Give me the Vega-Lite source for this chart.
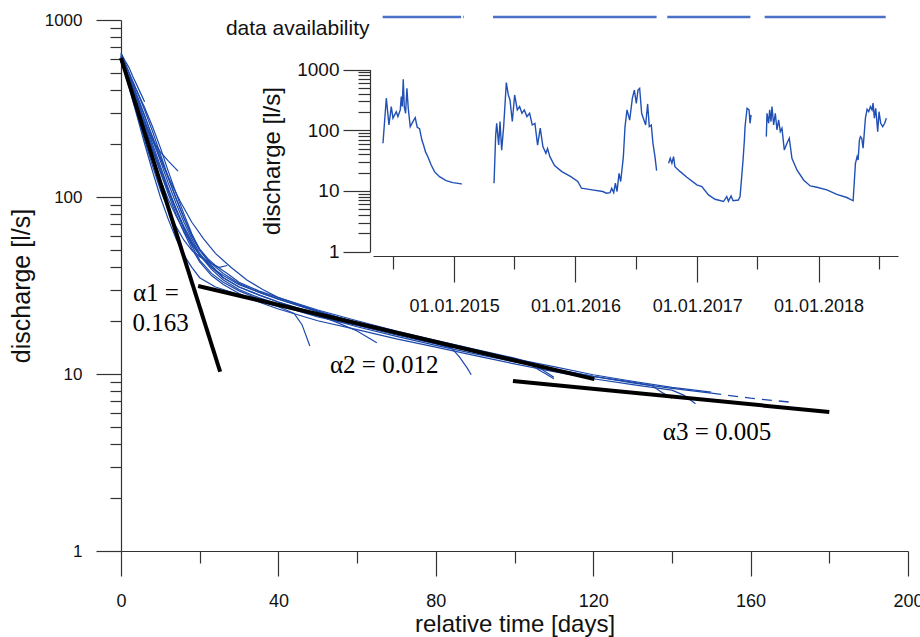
{
  "$schema": "https://vega.github.io/schema/vega-lite/v6.json",
  "width": 787,
  "height": 531,
  "autosize": {"type": "none"},
  "padding": {"left": 121, "top": 20, "right": 12, "bottom": 86},
  "background": "white",
  "config": {
    "view": {"stroke": null},
    "axis": {
      "grid": false,
      "labelFont": "Liberation Sans",
      "titleFont": "Liberation Sans",
      "titleFontWeight": "normal",
      "labelColor": "#111",
      "titleColor": "#111",
      "domainColor": "#333",
      "tickColor": "#333",
      "domainWidth": 1.2,
      "tickWidth": 1.2,
      "labelOverlap": false,
      "labelFlush": false,
      "labelBound": false
    }
  },
  "datasets": {
    "curves": [
      {"c":1,"t":0,"q":650},{"c":1,"t":1,"q":590},{"c":1,"t":2,"q":540},{"c":1,"t":3,"q":480},{"c":1,"t":4,"q":430},{"c":1,"t":5,"q":385},{"c":1,"t":6,"q":345},
      {"c":2,"t":0,"q":600},{"c":2,"t":2,"q":470},{"c":2,"t":4,"q":340},{"c":2,"t":6,"q":260},{"c":2,"t":8,"q":210},{"c":2,"t":10,"q":180},{"c":2,"t":12,"q":160},{"c":2,"t":14.5,"q":140},
      {"c":3,"t":0,"q":630},{"c":3,"t":2,"q":430},{"c":3,"t":4,"q":300},{"c":3,"t":6,"q":210},{"c":3,"t":8,"q":150},{"c":3,"t":10,"q":110},{"c":3,"t":12,"q":85},{"c":3,"t":14,"q":68},{"c":3,"t":16,"q":57},{"c":3,"t":18,"q":50},{"c":3,"t":20,"q":46},{"c":3,"t":23,"q":42},{"c":3,"t":25,"q":40},{"c":3,"t":27,"q":41},
      {"c":4,"t":0,"q":600},{"c":4,"t":2,"q":420},{"c":4,"t":4,"q":290},{"c":4,"t":6,"q":200},{"c":4,"t":8,"q":140},{"c":4,"t":10,"q":100},{"c":4,"t":12,"q":75},{"c":4,"t":14,"q":58},{"c":4,"t":16,"q":47},{"c":4,"t":18,"q":40},{"c":4,"t":20,"q":35},{"c":4,"t":24,"q":31},{"c":4,"t":28,"q":29},{"c":4,"t":32,"q":27},{"c":4,"t":36,"q":25.5},{"c":4,"t":40,"q":24},{"c":4,"t":44,"q":22},{"c":4,"t":46,"q":19},{"c":4,"t":48,"q":14.4},
      {"c":5,"t":0,"q":580},{"c":5,"t":2,"q":480},{"c":5,"t":4,"q":400},{"c":5,"t":6,"q":320},{"c":5,"t":8,"q":250},{"c":5,"t":10,"q":190},{"c":5,"t":12,"q":140},{"c":5,"t":14,"q":105},{"c":5,"t":16,"q":80},{"c":5,"t":18,"q":62},{"c":5,"t":20,"q":50},{"c":5,"t":23,"q":41},{"c":5,"t":26,"q":35},{"c":5,"t":30,"q":31},{"c":5,"t":35,"q":28},{"c":5,"t":40,"q":25.5},{"c":5,"t":45,"q":23.5},{"c":5,"t":50,"q":21.5},{"c":5,"t":55,"q":19.5},{"c":5,"t":60,"q":17.5},{"c":5,"t":65,"q":15},
      {"c":6,"t":0,"q":620},{"c":6,"t":2,"q":470},{"c":6,"t":4,"q":360},{"c":6,"t":6,"q":270},{"c":6,"t":8,"q":200},{"c":6,"t":10,"q":150},{"c":6,"t":12,"q":112},{"c":6,"t":14,"q":85},{"c":6,"t":16,"q":66},{"c":6,"t":18,"q":53},{"c":6,"t":20,"q":44},{"c":6,"t":23,"q":37},{"c":6,"t":26,"q":33},{"c":6,"t":30,"q":29.5},{"c":6,"t":35,"q":26.5},{"c":6,"t":40,"q":24.5},{"c":6,"t":50,"q":21},{"c":6,"t":60,"q":18.8},{"c":6,"t":70,"q":16.6},{"c":6,"t":80,"q":14.8},{"c":6,"t":84,"q":14},{"c":6,"t":86,"q":12.5},{"c":6,"t":88,"q":10.8},{"c":6,"t":89,"q":9.9},
      {"c":7,"t":0,"q":640},{"c":7,"t":2,"q":500},{"c":7,"t":4,"q":380},{"c":7,"t":6,"q":290},{"c":7,"t":8,"q":215},{"c":7,"t":10,"q":160},{"c":7,"t":12,"q":120},{"c":7,"t":14,"q":92},{"c":7,"t":16,"q":72},{"c":7,"t":18,"q":58},{"c":7,"t":20,"q":48},{"c":7,"t":23,"q":40},{"c":7,"t":26,"q":35},{"c":7,"t":30,"q":31},{"c":7,"t":35,"q":28},{"c":7,"t":40,"q":25.5},{"c":7,"t":50,"q":21.8},{"c":7,"t":60,"q":19.2},{"c":7,"t":70,"q":17},{"c":7,"t":80,"q":15.2},{"c":7,"t":90,"q":13.5},{"c":7,"t":100,"q":12},{"c":7,"t":104,"q":11.4},{"c":7,"t":106,"q":10.6},{"c":7,"t":108,"q":10},{"c":7,"t":110,"q":9.4},
      {"c":8,"t":0,"q":610},{"c":8,"t":2,"q":450},{"c":8,"t":4,"q":340},{"c":8,"t":6,"q":250},{"c":8,"t":8,"q":185},{"c":8,"t":10,"q":138},{"c":8,"t":12,"q":104},{"c":8,"t":14,"q":80},{"c":8,"t":16,"q":63},{"c":8,"t":18,"q":51},{"c":8,"t":20,"q":43},{"c":8,"t":23,"q":36},{"c":8,"t":26,"q":32},{"c":8,"t":30,"q":28.5},{"c":8,"t":35,"q":25.5},{"c":8,"t":40,"q":23.3},{"c":8,"t":50,"q":20},{"c":8,"t":60,"q":17.8},{"c":8,"t":70,"q":15.8},{"c":8,"t":80,"q":14.2},{"c":8,"t":90,"q":12.7},{"c":8,"t":100,"q":11.4},{"c":8,"t":110,"q":10.3},{"c":8,"t":120,"q":9.4},{"c":8,"t":130,"q":8.7},{"c":8,"t":140,"q":8.1},{"c":8,"t":143,"q":7.6},{"c":8,"t":146,"q":6.8},
      {"c":9,"t":0,"q":590},{"c":9,"t":2,"q":440},{"c":9,"t":4,"q":330},{"c":9,"t":6,"q":245},{"c":9,"t":8,"q":185},{"c":9,"t":10,"q":140},{"c":9,"t":12,"q":108},{"c":9,"t":14,"q":84},{"c":9,"t":16,"q":67},{"c":9,"t":18,"q":55},{"c":9,"t":20,"q":47},{"c":9,"t":23,"q":40},{"c":9,"t":26,"q":36},{"c":9,"t":30,"q":32},{"c":9,"t":35,"q":29},{"c":9,"t":40,"q":26.5},{"c":9,"t":50,"q":22.5},{"c":9,"t":60,"q":19.5},{"c":9,"t":70,"q":17.2},{"c":9,"t":80,"q":15.3},{"c":9,"t":90,"q":13.6},{"c":9,"t":100,"q":12.2},{"c":9,"t":110,"q":11},{"c":9,"t":120,"q":9.9},{"c":9,"t":130,"q":9.1},{"c":9,"t":140,"q":8.4},{"c":9,"t":150,"q":7.9},
      {"c":10,"t":0,"q":620},{"c":10,"t":2,"q":480},{"c":10,"t":4,"q":370},{"c":10,"t":6,"q":285},{"c":10,"t":8,"q":220},{"c":10,"t":10,"q":168},{"c":10,"t":12,"q":128},{"c":10,"t":14,"q":98},{"c":10,"t":16,"q":76},{"c":10,"t":18,"q":60},{"c":10,"t":20,"q":50},{"c":10,"t":23,"q":42},{"c":10,"t":26,"q":37},{"c":10,"t":30,"q":32.5},{"c":10,"t":35,"q":29},{"c":10,"t":40,"q":26.5},{"c":10,"t":50,"q":22.5},{"c":10,"t":60,"q":19.5},{"c":10,"t":70,"q":17},{"c":10,"t":80,"q":15},{"c":10,"t":90,"q":13.3},{"c":10,"t":100,"q":11.9},{"c":10,"t":110,"q":10.7},{"c":10,"t":120,"q":9.7},{"c":10,"t":130,"q":8.9},{"c":10,"t":140,"q":8.3},{"c":10,"t":150,"q":7.8},
      {"c":11,"t":0,"q":600},{"c":11,"t":2,"q":430},{"c":11,"t":4,"q":310},{"c":11,"t":6,"q":225},{"c":11,"t":8,"q":165},{"c":11,"t":10,"q":125},{"c":11,"t":12,"q":97},{"c":11,"t":14,"q":78},{"c":11,"t":16,"q":64},{"c":11,"t":18,"q":54},{"c":11,"t":20,"q":47},
      {"c":12,"t":0,"q":650},{"c":12,"t":2,"q":510},{"c":12,"t":4,"q":400},{"c":12,"t":6,"q":310},{"c":12,"t":8,"q":235},{"c":12,"t":10,"q":175},{"c":12,"t":12,"q":130},{"c":12,"t":14,"q":98},{"c":12,"t":16,"q":76},{"c":12,"t":18,"q":61},{"c":12,"t":20,"q":51},{"c":12,"t":22,"q":45},{"c":12,"t":24,"q":41},{"c":12,"t":27,"q":37},{"c":12,"t":30,"q":33},{"c":12,"t":35,"q":29.5},{"c":12,"t":40,"q":27},{"c":12,"t":48,"q":23.5},{"c":12,"t":55,"q":21},{"c":12,"t":62,"q":19},{"c":12,"t":68,"q":17.5},
      {"c":13,"t":0,"q":600},{"c":13,"t":3,"q":400},{"c":13,"t":6,"q":270},{"c":13,"t":9,"q":185},{"c":13,"t":12,"q":130},{"c":13,"t":15,"q":95},{"c":13,"t":18,"q":72},{"c":13,"t":21,"q":58},{"c":13,"t":24,"q":48},{"c":13,"t":28,"q":40},{"c":13,"t":32,"q":34},{"c":13,"t":36,"q":30},{"c":13,"t":40,"q":27},{"c":13,"t":50,"q":23},{"c":13,"t":60,"q":20},{"c":13,"t":70,"q":17.5},{"c":13,"t":80,"q":15.5},{"c":13,"t":90,"q":13.8},{"c":13,"t":100,"q":12.3},{"c":13,"t":104,"q":11.6},{"c":13,"t":107,"q":10.6},{"c":13,"t":110,"q":9.6},
      {"c":14,"t":0,"q":630},{"c":14,"t":2,"q":460},{"c":14,"t":4,"q":345},{"c":14,"t":6,"q":258},{"c":14,"t":8,"q":192},{"c":14,"t":10,"q":145},{"c":14,"t":12,"q":110},{"c":14,"t":14,"q":86},{"c":14,"t":16,"q":68},{"c":14,"t":18,"q":56},{"c":14,"t":20,"q":47},{"c":14,"t":23,"q":39},{"c":14,"t":26,"q":34},{"c":14,"t":30,"q":30},{"c":14,"t":35,"q":27},{"c":14,"t":40,"q":24.8},{"c":14,"t":50,"q":21.3},{"c":14,"t":60,"q":18.5},{"c":14,"t":70,"q":16.3},{"c":14,"t":80,"q":14.5},{"c":14,"t":90,"q":13},{"c":14,"t":100,"q":11.7},{"c":14,"t":110,"q":10.6},{"c":14,"t":120,"q":9.7},{"c":14,"t":130,"q":9},{"c":14,"t":135,"q":8.6},{"c":14,"t":137,"q":8},{"c":14,"t":140,"q":7.3}
    ],
    "dashed": [
      {"t":150,"q":7.8},{"t":160,"q":7.3},{"t":171,"q":6.9}
    ],
    "fits": [
      {"f":"a1","t":0,"q":610},{"f":"a1","t":25.2,"q":10.3},
      {"f":"a2","t":19.6,"q":31.4},{"f":"a2","t":120.3,"q":9.35},
      {"f":"a3","t":99.6,"q":9.13},{"f":"a3","t":180,"q":6.1}
    ],
    "notes": [
      {"t":3.05,"q":28.7,"txt":"α1 ="},
      {"t":2.9,"q":19.4,"txt":"0.163"},
      {"t":53.1,"q":11.2,"txt":"α2 = 0.012"},
      {"t":137.7,"q":4.7,"txt":"α3 = 0.005"}
    ],
    "inset": [
      {"seg":1,"d":"2014-06-01","q":61},{"seg":1,"d":"2014-06-11","q":337},{"seg":1,"d":"2014-06-19","q":122},{"seg":1,"d":"2014-06-26","q":245},{"seg":1,"d":"2014-07-01","q":158},{"seg":1,"d":"2014-07-11","q":202},{"seg":1,"d":"2014-07-16","q":168},{"seg":1,"d":"2014-07-23","q":216},{"seg":1,"d":"2014-07-26","q":358},{"seg":1,"d":"2014-07-29","q":245},{"seg":1,"d":"2014-08-01","q":692},{"seg":1,"d":"2014-08-04","q":245},{"seg":1,"d":"2014-08-08","q":190},{"seg":1,"d":"2014-08-12","q":492},{"seg":1,"d":"2014-08-16","q":230},{"seg":1,"d":"2014-08-22","q":115},{"seg":1,"d":"2014-08-30","q":139},{"seg":1,"d":"2014-09-06","q":161},{"seg":1,"d":"2014-09-12","q":112},{"seg":1,"d":"2014-09-19","q":106},{"seg":1,"d":"2014-09-26","q":69},{"seg":1,"d":"2014-10-01","q":57},{"seg":1,"d":"2014-10-07","q":44},{"seg":1,"d":"2014-10-14","q":36.7},{"seg":1,"d":"2014-10-24","q":26.8},{"seg":1,"d":"2014-11-03","q":20.8},{"seg":1,"d":"2014-11-18","q":17.2},{"seg":1,"d":"2014-12-08","q":14.8},{"seg":1,"d":"2014-12-28","q":13.7},{"seg":1,"d":"2015-01-18","q":13.2},{"seg":1,"d":"2015-01-24","q":13.0},
      {"seg":2,"d":"2015-05-01","q":13.4},{"seg":2,"d":"2015-05-06","q":83.6},{"seg":2,"d":"2015-05-09","q":130},{"seg":2,"d":"2015-05-15","q":57},{"seg":2,"d":"2015-05-19","q":139},{"seg":2,"d":"2015-05-24","q":47},{"seg":2,"d":"2015-05-30","q":115},{"seg":2,"d":"2015-06-07","q":608},{"seg":2,"d":"2015-06-13","q":381},{"seg":2,"d":"2015-06-18","q":315},{"seg":2,"d":"2015-06-25","q":139},{"seg":2,"d":"2015-07-02","q":381},{"seg":2,"d":"2015-07-10","q":216},{"seg":2,"d":"2015-07-17","q":245},{"seg":2,"d":"2015-07-24","q":190},{"seg":2,"d":"2015-07-31","q":216},{"seg":2,"d":"2015-08-08","q":168},{"seg":2,"d":"2015-08-16","q":190},{"seg":2,"d":"2015-08-24","q":122},{"seg":2,"d":"2015-09-01","q":130},{"seg":2,"d":"2015-09-09","q":57},{"seg":2,"d":"2015-09-17","q":108},{"seg":2,"d":"2015-09-25","q":53.7},{"seg":2,"d":"2015-10-04","q":41.7},{"seg":2,"d":"2015-10-09","q":50},{"seg":2,"d":"2015-10-16","q":36.7},{"seg":2,"d":"2015-10-30","q":26.1},{"seg":2,"d":"2015-11-21","q":20.8},{"seg":2,"d":"2015-12-18","q":17.2},{"seg":2,"d":"2016-01-08","q":14.3},{"seg":2,"d":"2016-01-19","q":11.1},{"seg":2,"d":"2016-02-20","q":10.4},{"seg":2,"d":"2016-03-23","q":9.8},{"seg":2,"d":"2016-04-03","q":9.2},{"seg":2,"d":"2016-04-14","q":9.4},{"seg":2,"d":"2016-04-19","q":11.1},{"seg":2,"d":"2016-04-25","q":9.4},{"seg":2,"d":"2016-04-30","q":13.4},{"seg":2,"d":"2016-05-05","q":9.8},{"seg":2,"d":"2016-05-11","q":19.5},{"seg":2,"d":"2016-05-16","q":14.3},{"seg":2,"d":"2016-05-24","q":36.7},{"seg":2,"d":"2016-05-29","q":115},{"seg":2,"d":"2016-06-04","q":216},{"seg":2,"d":"2016-06-12","q":147},{"seg":2,"d":"2016-06-20","q":335},{"seg":2,"d":"2016-06-26","q":459},{"seg":2,"d":"2016-07-02","q":277},{"seg":2,"d":"2016-07-07","q":459},{"seg":2,"d":"2016-07-12","q":490},{"seg":2,"d":"2016-07-18","q":190},{"seg":2,"d":"2016-07-23","q":157},{"seg":2,"d":"2016-07-30","q":122},{"seg":2,"d":"2016-08-05","q":271},{"seg":2,"d":"2016-08-10","q":115},{"seg":2,"d":"2016-08-16","q":122},{"seg":2,"d":"2016-08-21","q":61},{"seg":2,"d":"2016-08-27","q":36.7},{"seg":2,"d":"2016-09-01","q":21.6},
      {"seg":3,"d":"2016-10-07","q":28.6},{"seg":3,"d":"2016-10-12","q":34.6},{"seg":3,"d":"2016-10-17","q":28.6},{"seg":3,"d":"2016-10-22","q":36.7},{"seg":3,"d":"2016-10-26","q":25.1},{"seg":3,"d":"2016-11-11","q":20.8},{"seg":3,"d":"2016-12-01","q":16.8},{"seg":3,"d":"2016-12-31","q":12.6},{"seg":3,"d":"2017-01-15","q":11.8},{"seg":3,"d":"2017-02-04","q":8.6},{"seg":3,"d":"2017-02-24","q":7.3},{"seg":3,"d":"2017-03-21","q":6.7},{"seg":3,"d":"2017-03-31","q":8.1},{"seg":3,"d":"2017-04-05","q":6.8},{"seg":3,"d":"2017-04-13","q":8.3},{"seg":3,"d":"2017-04-19","q":6.9},{"seg":3,"d":"2017-05-05","q":7.1},{"seg":3,"d":"2017-05-10","q":8.1},{"seg":3,"d":"2017-05-19","q":32.4},{"seg":3,"d":"2017-05-23","q":69},{"seg":3,"d":"2017-05-25","q":115},{"seg":3,"d":"2017-05-31","q":230},{"seg":3,"d":"2017-06-06","q":216},{"seg":3,"d":"2017-06-09","q":130},{"seg":3,"d":"2017-06-12","q":179},
      {"seg":4,"d":"2017-07-28","q":78.5},{"seg":4,"d":"2017-07-30","q":190},{"seg":4,"d":"2017-08-04","q":130},{"seg":4,"d":"2017-08-07","q":216},{"seg":4,"d":"2017-08-11","q":139},{"seg":4,"d":"2017-08-14","q":245},{"seg":4,"d":"2017-08-19","q":122},{"seg":4,"d":"2017-08-24","q":190},{"seg":4,"d":"2017-08-29","q":101},{"seg":4,"d":"2017-09-03","q":148},{"seg":4,"d":"2017-09-08","q":95},{"seg":4,"d":"2017-09-13","q":108},{"seg":4,"d":"2017-09-20","q":47.4},{"seg":4,"d":"2017-09-28","q":61},{"seg":4,"d":"2017-10-05","q":73.8},{"seg":4,"d":"2017-10-13","q":34.6},{"seg":4,"d":"2017-10-28","q":22.2},{"seg":4,"d":"2017-11-17","q":15.2},{"seg":4,"d":"2017-12-07","q":12.1},{"seg":4,"d":"2017-12-27","q":11.5},{"seg":4,"d":"2018-01-26","q":10.4},{"seg":4,"d":"2018-02-25","q":8.8},{"seg":4,"d":"2018-03-27","q":7.8},{"seg":4,"d":"2018-04-15","q":6.9},{"seg":4,"d":"2018-04-22","q":28.6},{"seg":4,"d":"2018-04-27","q":36.7},{"seg":4,"d":"2018-04-30","q":32.4},{"seg":4,"d":"2018-05-04","q":69},{"seg":4,"d":"2018-05-07","q":78.5},{"seg":4,"d":"2018-05-11","q":73.8},{"seg":4,"d":"2018-05-15","q":50.5},{"seg":4,"d":"2018-05-22","q":158},{"seg":4,"d":"2018-05-27","q":222},{"seg":4,"d":"2018-06-01","q":202},{"seg":4,"d":"2018-06-06","q":245},{"seg":4,"d":"2018-06-11","q":216},{"seg":4,"d":"2018-06-14","q":279},{"seg":4,"d":"2018-06-18","q":158},{"seg":4,"d":"2018-06-22","q":230},{"seg":4,"d":"2018-06-28","q":95},{"seg":4,"d":"2018-07-02","q":202},{"seg":4,"d":"2018-07-07","q":130},{"seg":4,"d":"2018-07-13","q":115},{"seg":4,"d":"2018-07-19","q":130},{"seg":4,"d":"2018-07-24","q":158}
    ],
    "avail": [
      {"lab":"data availability","s":"2014-05-31","e":"2015-01-22"},
      {"lab":"data availability","s":"2015-01-28","e":"2015-01-30"},
      {"lab":"data availability","s":"2015-04-28","e":"2016-09-01"},
      {"lab":"data availability","s":"2016-10-03","e":"2017-06-10"},
      {"lab":"data availability","s":"2017-07-23","e":"2018-07-22"}
    ]
  },
  "layer": [
    {
      "layer": [
        {
          "data": {"name": "curves"},
          "mark": {"type": "line", "color": "#1c48ab", "strokeWidth": 1.2},
          "encoding": {
            "x": {
              "field": "t", "type": "quantitative",
              "scale": {"domain": [0, 200], "nice": false, "zero": false},
              "axis": {
                "values": [0, 20, 40, 60, 80, 100, 120, 140, 160, 180, 200],
                "tickSize": {"condition": {"test": "datum.value % 40 == 0", "value": 25}, "value": 12},
                "labelExpr": "datum.value % 40 == 0 ? datum.label : ''",
                "labelFontSize": 18,
                "labelPadding": 16,
                "title": "relative time [days]",
                "titleFontSize": 24,
                "titlePadding": 2
              }
            },
            "y": {
              "field": "q", "type": "quantitative",
              "scale": {"type": "log", "domain": [1, 1000], "nice": false},
              "axis": {
                "values": [1,2,3,4,5,6,7,8,9,10,20,30,40,50,60,70,80,90,100,200,300,400,500,600,700,800,900,1000],
                "tickSize": {"condition": {"test": "datum.value == 1 || datum.value == 10 || datum.value == 100 || datum.value == 1000", "value": 25}, "value": 11},
                "labelExpr": "(datum.value == 1 || datum.value == 10 || datum.value == 100 || datum.value == 1000) ? ('' + datum.value) : ''",
                "labelFontSize": 17,
                "labelPadding": 14,
                "title": "discharge [l/s]",
                "titleFontSize": 25,
                "titlePadding": 10
              }
            },
            "detail": {"field": "c"}
          }
        },
        {
          "data": {"name": "dashed"},
          "mark": {"type": "line", "color": "#1c48ab", "strokeWidth": 1.3, "strokeDash": [10, 7]},
          "encoding": {
            "x": {"field": "t", "type": "quantitative"},
            "y": {"field": "q", "type": "quantitative"}
          }
        },
        {
          "data": {"name": "fits"},
          "mark": {"type": "line", "color": "black", "strokeWidth": 4},
          "encoding": {
            "x": {"field": "t", "type": "quantitative"},
            "y": {"field": "q", "type": "quantitative"},
            "detail": {"field": "f"}
          }
        },
        {
          "data": {"name": "notes"},
          "mark": {"type": "text", "font": "Liberation Serif", "fontSize": 25, "align": "left", "baseline": "middle", "color": "black"},
          "encoding": {
            "x": {"field": "t", "type": "quantitative"},
            "y": {"field": "q", "type": "quantitative"},
            "text": {"field": "txt"}
          }
        }
      ]
    },
    {
      "layer": [
        {
          "data": {"name": "inset"},
          "mark": {"type": "line", "color": "#2150b5", "strokeWidth": 1.4},
          "encoding": {
            "x": {
              "field": "d", "type": "temporal",
              "scale": {
                "type": "utc",
                "domain": [{"year": 2014, "month": 5, "date": 2, "utc": true}, {"year": 2018, "month": 8, "date": 28, "utc": true}],
                "range": [252, 777],
                "nice": false
              },
              "axis": {
                "orient": "bottom",
                "offset": -295,
                "values": [
                  {"year": 2014, "month": 7, "date": 1, "utc": true},
                  {"year": 2015, "month": 1, "date": 1, "utc": true},
                  {"year": 2015, "month": 7, "date": 1, "utc": true},
                  {"year": 2016, "month": 1, "date": 1, "utc": true},
                  {"year": 2016, "month": 7, "date": 1, "utc": true},
                  {"year": 2017, "month": 1, "date": 1, "utc": true},
                  {"year": 2017, "month": 7, "date": 1, "utc": true},
                  {"year": 2018, "month": 1, "date": 1, "utc": true},
                  {"year": 2018, "month": 7, "date": 1, "utc": true}
                ],
                "tickSize": {"condition": {"test": "utcmonth(datum.value) == 0", "value": 26}, "value": 13},
                "labelExpr": "utcmonth(datum.value) == 0 ? utcFormat(datum.value, '%d.%m.%Y') : ''",
                "labelFontSize": 18,
                "labelPadding": 15,
                "title": null
              }
            },
            "y": {
              "field": "q", "type": "quantitative",
              "scale": {"type": "log", "domain": [1, 1000], "range": [231.7, 49.5], "nice": false},
              "axis": {
                "orient": "left",
                "offset": -249,
                "values": [1,2,3,4,5,6,7,8,9,10,20,30,40,50,60,70,80,90,100,200,300,400,500,600,700,800,900,1000],
                "tickSize": {"condition": {"test": "datum.value == 1 || datum.value == 10 || datum.value == 100 || datum.value == 1000", "value": 27}, "value": 12},
                "labelExpr": "(datum.value == 1 || datum.value == 10 || datum.value == 100 || datum.value == 1000) ? ('' + datum.value) : ''",
                "labelFontSize": 19,
                "labelPadding": 4,
                "title": "discharge [l/s]",
                "titleFontSize": 24,
                "titlePadding": 12
              }
            },
            "detail": {"field": "seg"}
          }
        },
        {
          "data": {"name": "avail"},
          "mark": {"type": "rule", "color": "#4a70c8", "strokeWidth": 2.5},
          "encoding": {
            "x": {"field": "s", "type": "temporal"},
            "x2": {"field": "e"},
            "y": {
              "field": "lab", "type": "nominal",
              "scale": {"type": "point", "range": [-3, -3]},
              "axis": {
                "orient": "left",
                "offset": -249,
                "domain": false,
                "ticks": false,
                "labelFontSize": 21,
                "labelPadding": 1,
                "labelOffset": 11,
                "title": null
              }
            }
          }
        }
      ],
      "resolve": {"scale": {"y": "independent"}}
    }
  ],
  "resolve": {"scale": {"x": "independent", "y": "independent"}}
}
